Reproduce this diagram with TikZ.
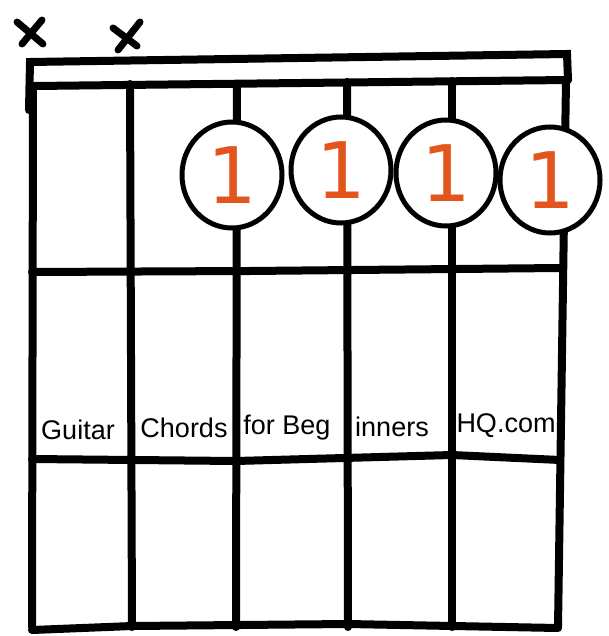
\documentclass[tikz,border=0pt]{standalone}
\usepackage{fontspec}
\setmainfont{Liberation Sans}
\newfontfamily\fingerfont{DejaVu Sans}
\usetikzlibrary{shapes.geometric}
\definecolor{fingerorange}{HTML}{E2561E}

\begin{document}
\begin{tikzpicture}[x=1pt, y=-1pt,
    gridline/.style={line width=8pt, line cap=round},
    mute/.style={line width=7pt, line cap=round},
    finger/.style={draw, line width=5pt, fill=white, ellipse, inner sep=0pt,
                   minimum width=100pt, minimum height=106pt, text=fingerorange,
                   font=\fingerfont\fontsize{78}{78}\selectfont},
    sitetext/.style={font=\fontsize{27}{27}\selectfont, inner sep=0pt}
  ]
    \useasboundingbox (0,0) rectangle (608,636);

    % Muted strings
    \draw[mute] (17,22) -- (43,44) (42,20) -- (22,44);
    \draw[mute] (113,28) -- (137,46) (140,22) -- (118,50);

    % Nut
    \coordinate (nutTL) at (30,62);
    \coordinate (nutTR) at (567,54);
    \coordinate (nutBL) at (35,86);
    \coordinate (nutBR) at (568,80);
    \draw[gridline] (29,110) -- (nutTL) -- (nutTR) -- (nutBR);
    \draw[gridline] (nutBL) -- (nutBR);

    % Strings
    \foreach \name/\xtop/\ytop/\xbot in {s1/33/86/32, s2/130/84/132, s3/237/84/236,
                                          s4/347/82/348, s5/452/81/452, s6/566/80/558} {
      \coordinate (\name top) at (\xtop,\ytop);
      \coordinate (\name bot) at (\xbot,627);
      \draw[gridline] (\name top) -- (\name bot);
    }

    % Frets
    \draw[gridline] (32,272) -- (250,271) -- (560,268);
    \draw[gridline] (32,459) -- (236,461) -- (452,455) -- (560,460);
    \draw[gridline] (32,630) -- (132,626) -- (348,624) -- (558,628);

    % Fingers
    \node[finger] (f3) at (232,175) {1};
    \node[finger] (f4) at (341,170) {1};
    \node[finger] (f5) at (446,173) {1};
    \node[finger] (f6) at (550,180) {1};

    % Watermark
    \node[sitetext] (t1) at (78,430) {Guitar};
    \node[sitetext] (t2) at (184,428) {Chords};
    \node[sitetext] (t3) at (287,428) {for Beg};
    \node[sitetext] (t4) at (392,427) {inners};
    \node[sitetext] (t5) at (506,426) {HQ.com};
\end{tikzpicture}
\end{document}
